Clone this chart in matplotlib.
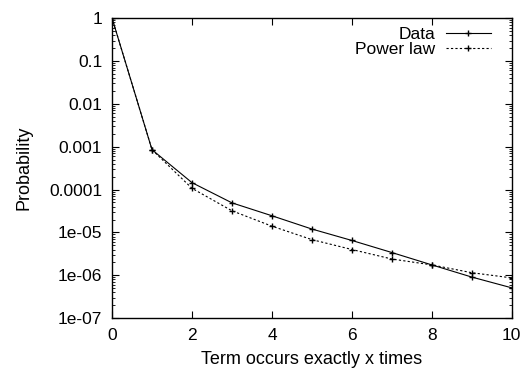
import numpy as np
import matplotlib.pyplot as plt
from matplotlib.ticker import FixedLocator, LogLocator, NullFormatter

plt.rcParams['font.family'] = ['Liberation Sans', 'DejaVu Sans']

x = [0, 1, 2, 3, 4, 5, 6, 7, 8, 9, 10]
data = [1.0, 8.5e-4, 1.45e-4, 4.9e-5, 2.45e-5, 1.2e-5, 6.5e-6, 3.4e-6, 1.75e-6, 9.1e-7, 5.1e-7]
power_law = [1.0, 8.5e-4, 1.07e-4, 3.2e-5, 1.4e-5, 6.8e-6, 4.0e-6, 2.4e-6, 1.75e-6, 1.15e-6, 8.7e-7]
yticks = [1e-7, 1e-6, 1e-5, 1e-4, 1e-3, 1e-2, 1e-1, 1]
ylabels = ['1e-07', '1e-06', '1e-05', '0.0001', '0.001', '0.01', '0.1', '1']

fig = plt.figure(figsize=(5.26, 3.77), dpi=100)
ax = fig.add_axes([0.213, 0.156, 0.76, 0.796])

ax.plot(x, data, 'k-', marker='+', markersize=5, linewidth=0.8, label='Data')
ax.plot(x, power_law, color='k', linestyle=(0, (2, 2)), marker='+', markersize=5,
        linewidth=0.8, label='Power law')

ax.set_yscale('log')
ax.set_xlim(0, 10)
ax.set_ylim(1e-7, 1)
ax.set_xticks([0, 2, 4, 6, 8, 10])
ax.yaxis.set_major_locator(FixedLocator(yticks))
ax.set_yticklabels(ylabels)
ax.yaxis.set_minor_locator(LogLocator(base=10, subs=np.arange(2, 10), numticks=20))
ax.yaxis.set_minor_formatter(NullFormatter())
ax.tick_params(which='both', direction='in', top=True, right=True, labelsize=12.5)
ax.tick_params(which='major', length=5, width=0.8)
ax.tick_params(which='minor', length=2.5, width=0.6)
ax.tick_params(axis='x', which='major', pad=7)
ax.tick_params(axis='y', which='major', pad=7)
for s in ax.spines.values():
    s.set_linewidth(1.0)

ax.set_xlabel('Term occurs exactly x times', fontsize=13, labelpad=6)
ax.set_ylabel('Probability', fontsize=13, labelpad=12)
ax.legend(loc='upper right', bbox_to_anchor=(0.9475, 0.97), frameon=False,
          markerfirst=False, fontsize=12.5, handlelength=2.6, borderaxespad=0,
          borderpad=0, labelspacing=0.0, handletextpad=0.6)

fig.savefig('out.png', dpi=100)
